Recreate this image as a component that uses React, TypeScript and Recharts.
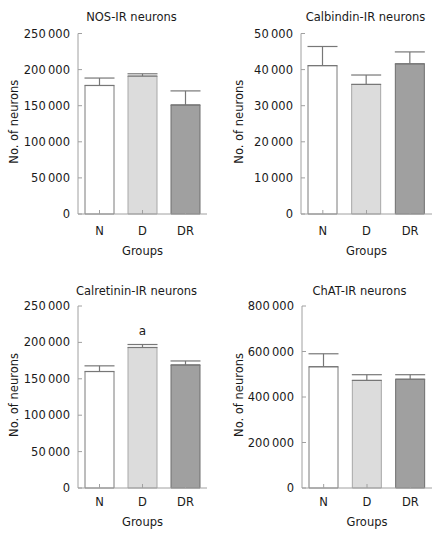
import React from 'react';
import { BarChart, Bar, XAxis, YAxis, ErrorBar, Cell, LabelList } from 'recharts';

const groups = ['N', 'D', 'DR'];
const titles = ['NOS-IR neurons', 'Calbindin-IR neurons', 'Calretinin-IR neurons', 'ChAT-IR neurons'];
const yAxisTitle = 'No. of neurons';
const xAxisTitle = 'Groups';

const nosValues = [178000, 191000, 151000];
const nosErrors = [10300, 3200, 19500];
const calbindinValues = [41100, 35900, 41600];
const calbindinErrors = [5300, 2600, 3300];
const calretininValues = [160000, 193000, 169000];
const calretininErrors = [7800, 4100, 5500];
const calretininMarks = [null, 'a', null];
const chatValues = [533000, 473000, 478000];
const chatErrors = [57000, 25000, 20000];

const nosTicks = [0, 50000, 100000, 150000, 200000, 250000];
const calbindinTicks = [0, 10000, 20000, 30000, 40000, 50000];
const calretininTicks = [0, 50000, 100000, 150000, 200000, 250000];
const chatTicks = [0, 200000, 400000, 600000, 800000];

const barFills = ['#ffffff', '#dcdcdc', '#a0a0a0'];
const barStrokes = ['#7a7a7a', '#a8a8a8', '#6e6e6e'];

const FONT = '"DejaVu Sans", Verdana, sans-serif';
const AXIS_COLOR = '#a0a0a0';
const TEXT_COLOR = '#1a1a1a';

const fmt = (v: number) => (v === 0 ? '0' : String(v).replace(/\B(?=(\d{3})+(?!\d))/g, '\u2009'));

const build = (values: number[], errors: number[], marks?: (string | null)[]) =>
  groups.map((g, i) => ({
    group: g,
    value: values[i],
    err: [0, errors[i]],
    mark: marks ? marks[i] : null,
  }));

const panels = [
  {
    title: titles[0], data: build(nosValues, nosErrors), ticks: nosTicks,
    left: 0, top: 0, yWidth: 78, margin: { top: 33.5, right: 14, bottom: 16, left: 0 },
    tickMargin: 17, groupsOffset: -1, titleX: 131.5, titleY: 21, labelX: 18,
  },
  {
    title: titles[1], data: build(calbindinValues, calbindinErrors), ticks: calbindinTicks,
    left: 222, top: 0, yWidth: 79, margin: { top: 33.5, right: 11, bottom: 16, left: 0 },
    tickMargin: 17, groupsOffset: -1, titleX: 143.5, titleY: 21, labelX: 21,
  },
  {
    title: titles[2], data: build(calretininValues, calretininErrors, calretininMarks), ticks: calretininTicks,
    left: 0, top: 270, yWidth: 78, margin: { top: 36, right: 14, bottom: 12, left: 0 },
    tickMargin: 14, groupsOffset: 2, titleX: 136.5, titleY: 24.5, labelX: 18,
  },
  {
    title: titles[3], data: build(chatValues, chatErrors), ticks: chatTicks,
    left: 222, top: 270, yWidth: 80, margin: { top: 36, right: 11, bottom: 12, left: 0 },
    tickMargin: 14, groupsOffset: 2, titleX: 137.5, titleY: 24.5, labelX: 21,
  },
];

const Panel = ({ p }: { p: typeof panels[number] }) => {
  const maxTick = p.ticks[p.ticks.length - 1];
  const yLabel = (props: any) => {
    const vb = props.viewBox || {};
    const cy = (vb.y ?? 0) + (vb.height ?? 0) / 2 - 2;
    return (
      <text
        x={p.labelX}
        y={cy}
        transform={`rotate(-90, ${p.labelX}, ${cy})`}
        textAnchor="middle"
        fontFamily={FONT}
        fontSize={11.5}
        fill={TEXT_COLOR}
      >
        {yAxisTitle}
      </text>
    );
  };
  return (
    <div style={{ position: 'absolute', left: p.left, top: p.top, width: 221, height: 270 }}>
      <BarChart width={221} height={270} data={p.data} margin={p.margin} barCategoryGap="16%">
        <Bar dataKey="value" barSize={29} isAnimationActive={false} strokeWidth={1}>
          {p.data.map((d, i) => (
            <Cell key={d.group} fill={barFills[i]} stroke={barStrokes[i]} />
          ))}
          <ErrorBar dataKey="err" direction="y" width={15} stroke="#777777" strokeWidth={1.2} isAnimationActive={false} />
          <LabelList dataKey="mark" position="top" offset={12} fill={TEXT_COLOR} fontSize={12} fontFamily={FONT} />
        </Bar>
        <XAxis
          dataKey="group"
          type="category"
          height={40}
          stroke={AXIS_COLOR}
          tickSize={-4}
          tickMargin={p.tickMargin}
          tick={{ fill: TEXT_COLOR, fontSize: 11.5, fontFamily: FONT }}
          label={{ value: xAxisTitle, position: 'insideBottom', offset: p.groupsOffset, fill: TEXT_COLOR, fontSize: 11.5, fontFamily: FONT }}
        />
        <YAxis
          type="number"
          width={p.yWidth}
          domain={[0, maxTick]}
          ticks={p.ticks}
          interval={0}
          stroke={AXIS_COLOR}
          tickSize={-4}
          tickMargin={12}
          tickFormatter={fmt}
          tick={{ fill: TEXT_COLOR, fontSize: 11.5, fontFamily: FONT }}
          label={yLabel}
        />
      </BarChart>
    </div>
  );
};

export default function App() {
  return (
    <div style={{ position: 'absolute', left: 0, top: 0, width: 443, height: 540, background: '#ffffff' }}>
      {panels.map((p) => (
        <Panel key={p.title} p={p} />
      ))}
      <svg width={443} height={540} style={{ position: 'absolute', left: 0, top: 0, pointerEvents: 'none' }}>
        {panels.map((p) => (
          <text
            key={p.title}
            x={p.left + p.titleX}
            y={p.top + p.titleY}
            textAnchor="middle"
            fontFamily={FONT}
            fontSize={11.5}
            fill={TEXT_COLOR}
          >
            {p.title}
          </text>
        ))}
      </svg>
    </div>
  );
}
